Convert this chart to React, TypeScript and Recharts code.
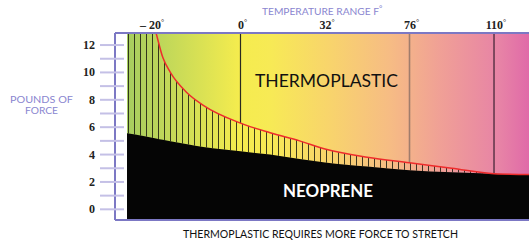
import {
  ComposedChart,
  Area,
  Line,
  XAxis,
  YAxis,
  CartesianGrid,
  ReferenceLine,
} from "recharts";

// temperature axis: evenly spaced labels, one unit per label
const tempTicks = [0, 1, 2, 3, 4];
const tempLabels = ["– 20", "0", "32", "76", "110"];

// pounds of force axis
const forceTicks = [0, 1, 2, 3, 4, 5, 6, 7, 8, 9, 10, 11, 12];

// curves (position on the temperature axis)
const position = [-0.343, -0.15, 0, 0.08, 0.17, 0.37, 0.56, 1, 1.35, 1.7, 2, 2.5, 3, 3.5, 4, 4.414];
const thermoplastic = [22, 16, 12.9, 11.1, 10.0, 8.5, 7.6, 6.3, 5.6, 5.0, 4.4, 3.8, 3.4, 3.0, 2.6, 2.55];
const neoprene = [5.55, 5.35, 5.18, 5.08, 4.98, 4.75, 4.55, 4.25, 4.0, 3.68, 3.42, 3.12, 2.86, 2.7, 2.6, 2.55];

// vertical markers at 0°, 76°, 110°
const dividerTicks = [1, 3, 4];
const dividerColors = ["#2a2a20", "#a07c6c", "#3a2030"];

const data = position.map((p, i) => ({
  pos: p,
  thermo: thermoplastic[i],
  neo: neoprene[i],
  band: [neoprene[i], thermoplastic[i]],
}));

const Y_MIN = -0.78;
const Y_MAX = 12.88;
const frame = "#7c78c4";
const lavender = "#8a86d0";

const ForceTick = (props: any) => {
  const { y, payload } = props;
  const v = payload.value;
  return (
    <g>
      <line x1={100} x2={124} y1={y} y2={y} stroke="#c4c0e6" strokeWidth={2} />
      {v % 2 === 0 && (
        <text
          x={95}
          y={y + 4}
          textAnchor="end"
          fontFamily="'Liberation Serif', serif"
          fontWeight="bold"
          fontSize={12}
          fill="#222"
        >
          {v}
        </text>
      )}
    </g>
  );
};

const TempTick = (props: any) => {
  const { x, payload } = props;
  const label = tempLabels[tempTicks.indexOf(payload.value)];
  return (
    <text
      x={payload.value === 0 ? x - 4 : x + 2}
      y={28.5}
      textAnchor="middle"
      fontFamily="'Liberation Serif', serif"
      fontWeight="bold"
      fontSize={12}
      fill="#222"
    >
      {label}
      <tspan dy={-4} fontSize={8} fontWeight="normal">°</tspan>
    </text>
  );
};

export default function App() {
  return (
    <div style={{ position: "absolute", left: 0, top: 0, width: 529, height: 242, background: "#fff" }}>
      <ComposedChart
        width={529}
        height={242}
        data={data}
        margin={{ top: 0, right: 0, bottom: 22, left: 0 }}
      >
        <defs>
          <linearGradient id="bg" x1="0" y1="0" x2="1" y2="0">
            <stop offset="0" stopColor="#ffffff" />
            <stop offset="0.029" stopColor="#ffffff" />
            <stop offset="0.029" stopColor="#a6cd5f" />
            <stop offset="0.302" stopColor="#f5ec4e" />
            <stop offset="0.374" stopColor="#f7ea55" />
            <stop offset="0.519" stopColor="#f8d46c" />
            <stop offset="0.664" stopColor="#f6bc84" />
            <stop offset="0.785" stopColor="#f0a096" />
            <stop offset="0.93" stopColor="#e783a6" />
            <stop offset="1" stopColor="#e06aa8" />
          </linearGradient>
          <pattern id="hatch" x="128" y="0" width="6" height="8" patternUnits="userSpaceOnUse">
            <rect x="0" y="0" width="1" height="8" fill="#1c1c10" fillOpacity={0.85} />
          </pattern>
        </defs>

        <CartesianGrid horizontal={false} vertical={false} fill="url(#bg)" fillOpacity={1} />

        <XAxis
          type="number"
          dataKey="pos"
          orientation="top"
          domain={[-0.485, 4.414]}
          ticks={tempTicks}
          height={33}
          tickLine={false}
          axisLine={{ stroke: frame, strokeWidth: 2 }}
          tick={<TempTick />}
          allowDataOverflow
        />
        <YAxis
          type="number"
          domain={[Y_MIN, Y_MAX]}
          ticks={forceTicks}
          interval={0}
          width={115}
          tickLine={false}
          axisLine={{ stroke: frame, strokeWidth: 2 }}
          tick={<ForceTick />}
          allowDataOverflow
        />

        <Area
          dataKey="band"
          type="monotone"
          stroke="none"
          fill="url(#hatch)"
          fillOpacity={1}
          isAnimationActive={false}
        />
        <Area
          dataKey="neo"
          type="monotone"
          stroke="none"
          fill="#050505"
          fillOpacity={1}
          baseValue="dataMin"
          isAnimationActive={false}
        />

        {dividerTicks.map((t, i) => (
          <ReferenceLine
            key={t}
            segment={[
              { x: t, y: thermoplastic[position.indexOf(t)] },
              { x: t, y: Y_MAX },
            ]}
            stroke={dividerColors[i]}
            strokeWidth={i === 1 ? 1.6 : 1.2}
          />
        ))}

        <Line
          dataKey="thermo"
          type="monotone"
          stroke="#ee2c2c"
          strokeWidth={1.5}
          dot={false}
          isAnimationActive={false}
        />
        <ReferenceLine y={Y_MIN} stroke={frame} strokeWidth={2} ifOverflow="extendDomain" />
      </ComposedChart>

      <svg
        width={529}
        height={242}
        style={{ position: "absolute", left: 0, top: 0, pointerEvents: "none" }}
        fontFamily="Lato, sans-serif"
      >
        <text x={262} y={15} fontSize={10.2} fill={lavender}>
          TEMPERATURE RANGE F
          <tspan dy={-4} fontSize={8}>°</tspan>
        </text>
        <text x={10} y={103} fontSize={10} fill={lavender} textLength={63} lengthAdjust="spacingAndGlyphs">
          POUNDS OF
        </text>
        <text x={25} y={114} fontSize={10} fill={lavender} textLength={33} lengthAdjust="spacingAndGlyphs">
          FORCE
        </text>
        <text x={255} y={87} fontSize={17} fill="#111" textLength={143} lengthAdjust="spacingAndGlyphs">
          THERMOPLASTIC
        </text>
        <text x={283} y={197} fontSize={16.5} fontWeight="bold" fill="#fff" textLength={90} lengthAdjust="spacingAndGlyphs">
          NEOPRENE
        </text>
        <text x={183} y={237.5} fontSize={10.5} fill="#111" textLength={275} lengthAdjust="spacingAndGlyphs">
          THERMOPLASTIC REQUIRES MORE FORCE TO STRETCH
        </text>
      </svg>
    </div>
  );
}
